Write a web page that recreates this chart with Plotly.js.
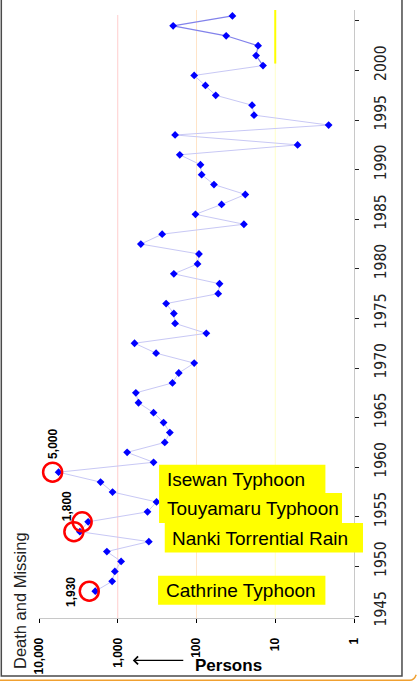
<!DOCTYPE html>
<html>
<head>
<meta charset="utf-8">
<script src="https://cdn.plot.ly/plotly-3.0.1.min.js"></script>
<style>
html,body{margin:0;padding:0;background:#fff;overflow:hidden;}
#chart{width:417px;height:682px;}
</style>
</head>
<body>
<div id="chart"></div>
<script>
// ---- data ----
const years = [1947,1948,1949,1950,1951,1952,1953,1954,1955,1956,1957,1958,1959,1960,1961,1962,1963,1964,1965,1966,1967,1968,1969,1970,1971,1972,1973,1974,1975,1976,1977,1978,1979,1980,1981,1982,1983,1984,1985,1986,1987,1988,1989,1990,1991,1992,1993,1994,1995,1996,1997,1998,1999,2000,2001,2002,2003,2004,2005];
const deaths = [1930,1178,1089,906,1375,403,3027,2376,419,322,1164,1653,5637,351,760,253,218,262,351,545,589,202,168,107,326,612,75,187,194,243,53,51,194,97,93,509,273,25,103,48,24,60,86,89,163,5.2,187,2.1,18.6,19.7,57,77,107,14.3,17.5,16.5,42,198,35];
const yearTicks = [1945,1950,1955,1960,1965,1970,1975,1980,1985,1990,1995,2000,2005];
const valueTicks = [10000,1000,100,10,1];
const valueTickText = ['10,000','1,000','100','10','1'];
const eventYears = [1947,1953,1954,1959];
const eventNames = ['Isewan Typhoon','Touyamaru Typhoon','Nanki Torrential Rain','Cathrine Typhoon'];
const valueLabels = ['5,000','1,800','1,930'];
const recentFrom = 2000;

// ---- geometry helpers (plot area in page pixels) ----
const L = 39.2, R = 354.3, T = 10, B = 618.3;
const YR0 = 1944.3, YR1 = 2005.6;
const px = x => (x - L) / (R - L);
const py = y => (B - y) / (B - T);
const pxPerDecade = (R - L) / 4;
const pxPerYear = (B - T) / (YR1 - YR0);

const idxRecent = years.indexOf(recentFrom);

const traces = [
  { x: deaths.slice(0, idxRecent + 1), y: years.slice(0, idxRecent + 1), mode: 'lines',
    line: { color: 'rgb(200,200,245)', width: 1 }, hoverinfo: 'skip' },
  { x: deaths.slice(idxRecent), y: years.slice(idxRecent), mode: 'lines',
    line: { color: 'rgb(130,130,235)', width: 1.2 }, hoverinfo: 'skip' },
  { x: deaths, y: years, mode: 'markers',
    marker: { symbol: 'diamond', size: 6, color: '#0000ff' }, hoverinfo: 'skip' }
];

const shapes = [
  { type: 'line', xref: 'x', yref: 'paper', x0: 1000, x1: 1000, y0: 0, y1: py(15), line: { color: 'rgb(255,205,205)', width: 1 }, layer: 'below' },
  { type: 'line', xref: 'x', yref: 'paper', x0: 100, x1: 100, y0: 0, y1: 1, line: { color: 'rgb(255,228,200)', width: 1 }, layer: 'below' },
  { type: 'line', xref: 'x', yref: 'paper', x0: 10, x1: 10, y0: 0, y1: 1, line: { color: 'rgb(255,255,200)', width: 1 }, layer: 'below' },
  { type: 'line', xref: 'x', yref: 'y', x0: 10, x1: 10, y0: 2000.2, y1: 2005.6, line: { color: '#ffff00', width: 2 }, layer: 'below' },
  // frame
  { type: 'rect', xref: 'paper', yref: 'paper', x0: px(1.5), x1: px(402.3), y0: py(676.3), y1: py(-5), line: { color: '#4a4a4a', width: 1.5 } },
  { type: 'path', xref: 'paper', yref: 'paper',
    path: 'M ' + px(0) + ' ' + py(680.6) + ' L ' + px(410) + ' ' + py(680.6) + ' Q ' + px(414.5) + ' ' + py(680.6) + ' ' + px(416.5) + ' ' + py(675),
    line: { color: '#f0a030', width: 1.5 } }
];

// red circles around the major events (offset ~6px toward larger values)
const cOff = 6 / pxPerDecade, cR = 9.5 / pxPerDecade, cRy = 9.5 / pxPerYear;
eventYears.forEach(yr => {
  const lv = Math.log10(deaths[years.indexOf(yr)]) + cOff;
  shapes.push({ type: 'circle', xref: 'x', yref: 'y',
    x0: Math.pow(10, lv - cR), x1: Math.pow(10, lv + cR), y0: yr - cRy, y1: yr + cRy,
    line: { color: '#ff0000', width: 2.5 } });
});

// yellow label boxes
const boxes = [
  { l: 159.3, t: 465, w: 166.4, h: 28.3 },
  { l: 159.3, t: 493.3, w: 183, h: 30 },
  { l: 165, t: 523.3, w: 198.3, h: 29.5 },
  { l: 158.3, t: 576, w: 167.4, h: 29 }
];
const boxFont = { family: 'Liberation Sans, Arial, sans-serif', size: 19, color: '#000' };
const annotations = [];
eventNames.forEach((name, i) => {
  const b = boxes[i];
  shapes.push({ type: 'rect', xref: 'paper', yref: 'paper', x0: px(b.l), x1: px(b.l + b.w), y0: py(b.t + b.h), y1: py(b.t),
    fillcolor: '#ffff00', line: { width: 0 } });
  annotations.push({ xref: 'paper', yref: 'paper', x: px(b.l + 5.5), y: py(b.t + b.h / 2 + 0.5), xanchor: 'left', yanchor: 'middle',
    showarrow: false, text: name, font: boxFont });
});

const labelPos = [[53.3, 444], [68, 506.7], [71, 592.5]];
valueLabels.forEach((t, i) => annotations.push({
  xref: 'paper', yref: 'paper', x: px(labelPos[i][0]), y: py(labelPos[i][1]), xanchor: 'center', yanchor: 'middle',
  showarrow: false, text: '<b>' + t + '</b>', textangle: -90,
  font: { family: 'Liberation Sans, Arial, sans-serif', size: 12, color: '#000' }
}));

annotations.push({
  xref: 'paper', yref: 'paper', x: px(20), y: py(600.5), xanchor: 'center', yanchor: 'middle',
  showarrow: false, text: 'Death and Missing', textangle: -90,
  font: { family: 'Liberation Sans, Arial, sans-serif', size: 16.5, color: '#222' }
});
annotations.push({
  xref: 'paper', yref: 'paper', x: px(229.2), y: py(665.5), xanchor: 'center', yanchor: 'middle',
  showarrow: false, text: '<b>Persons</b>',
  font: { family: 'Liberation Sans, Arial, sans-serif', size: 17, color: '#000' }
});
annotations.push({
  xref: 'paper', yref: 'paper', x: px(133), y: py(660.7), ax: 52, ay: 0,
  showarrow: true, text: '', arrowhead: 4, arrowsize: 1.3, arrowwidth: 1.2, arrowcolor: '#000'
});

const layout = {
  width: 417, height: 682,
  margin: { l: L, r: 417 - R, t: T, b: 682 - B, pad: 0 },
  paper_bgcolor: '#fff', plot_bgcolor: '#fff',
  showlegend: false,
  xaxis: {
    type: 'log', range: [4, 0], tickmode: 'array', tickvals: valueTicks, ticktext: valueTickText,
    tickangle: -90, tickfont: { family: 'Liberation Sans, Arial, sans-serif', size: 12, color: '#000', weight: 700 },
    ticks: 'outside', ticklen: 4, tickcolor: '#000', tickwidth: 1, ticklabelstandoff: 10,
    showline: true, linecolor: '#c8c8c8', linewidth: 1, showgrid: false, zeroline: false, fixedrange: true
  },
  yaxis: {
    side: 'right', range: [YR0, YR1], tickmode: 'array', tickvals: yearTicks, ticktext: yearTicks.map(String),
    tickangle: -90, tickfont: { family: 'Liberation Sans Narrow, Arial Narrow, DejaVu Sans Condensed, sans-serif', size: 15.5, color: '#222' },
    ticks: '', ticklabelstandoff: 12,
    minor: { tickmode: 'linear', tick0: 1944.5, dtick: 5, ticks: 'outside', ticklen: 4, tickcolor: '#222', tickwidth: 1, showgrid: false },
    showline: true, linecolor: '#c8c8c8', linewidth: 1, showgrid: false, zeroline: false, fixedrange: true
  },
  shapes: shapes,
  annotations: annotations
};

Plotly.newPlot('chart', traces, layout, { staticPlot: true, displayModeBar: false });
</script>
</body>
</html>
